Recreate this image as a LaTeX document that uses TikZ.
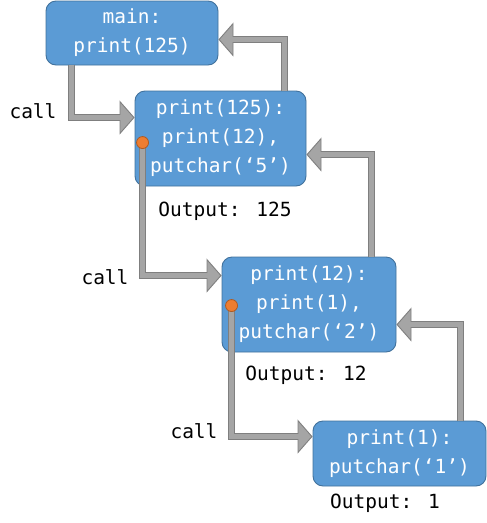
\documentclass[tikz,border=0pt]{standalone}
\usepackage{fontspec}
\newfontfamily\monofam{DejaVu Sans Mono}
\usetikzlibrary{arrows.meta,calc}
\definecolor{boxfill}{HTML}{5B9BD5}
\definecolor{boxline}{HTML}{41719C}
\definecolor{arrfill}{HTML}{A5A5A5}
\definecolor{arrline}{HTML}{7F7F7F}
\definecolor{dotfill}{HTML}{ED7D31}
\definecolor{dotline}{HTML}{AE5A21}
\tikzset{
  txt/.style={font=\monofam\fontsize{19.5}{29}\selectfont},
  frame/.style={txt, draw=boxline, line width=0.9pt, fill=boxfill, text=white,
    rounded corners=10pt, inner sep=0pt, align=center},
  blockarrow/.style={line width=7.5pt, draw=arrline,
    -{Triangle[length=15pt,width=34pt,fill=arrfill,color=arrline,line width=0.9pt]},
    postaction={draw=arrfill, line width=5.6pt, shorten >=13pt, -}},
  dotmark/.style={circle, fill=dotfill, draw=dotline, line width=0.8pt,
    minimum size=12pt, inner sep=0pt},
}
\begin{document}
\begin{tikzpicture}[x=1pt,y=-1pt]
\useasboundingbox (0,0) rectangle (487,523);
\node[frame, minimum width=172pt, minimum height=64pt] (b1) at (132,33) {main:\\print(125)};
\node[frame, minimum width=171pt, minimum height=95pt] (b2) at (220.5,138.5) {print(125):\\print(12),\\putchar(‘5’)};
\node[frame, minimum width=174pt, minimum height=95pt] (b3) at (309,304.5) {print(12):\\print(1),\\putchar(‘2’)};
\node[frame, minimum width=173pt, minimum height=65pt] (b4) at (399.5,453.5) {print(1):\\putchar(‘1’)};

\node[txt] (c1) at (33,111) {call};
\node[txt] (c2) at (105,277) {call};
\node[txt] (c3) at (194,431) {call};
\node[txt] (o1) at (225,211) {Output: 125};
\node[txt] (o2) at (306,375) {Output: 12};
\node[txt] (o3) at (385,503) {Output: 1};

\coordinate (d2) at ($(b2.north west)+(8,52)$);
\coordinate (d3) at ($(b3.north west)+(10,49)$);

% calls
\draw[blockarrow] ($(b1.south west)+(26,0)$) |- ($(b2.north west)+(0,27)$);
\draw[blockarrow] (d2) |- ($(b3.north west)+(0,19)$);
\draw[blockarrow] (d3) |- ($(b4.north west)+(0,16)$);
% returns
\draw[blockarrow] ($(b2.north east)+(-22,0)$) |- ($(b1.north east)+(0,39)$);
\draw[blockarrow] ($(b3.north east)+(-25,0)$) |- ($(b2.north east)+(0,64)$);
\draw[blockarrow] ($(b4.north east)+(-26,0)$) |- ($(b3.north east)+(0,68)$);

\node[dotmark] (p2) at (d2) {};
\node[dotmark] (p3) at (d3) {};
\end{tikzpicture}
\end{document}
